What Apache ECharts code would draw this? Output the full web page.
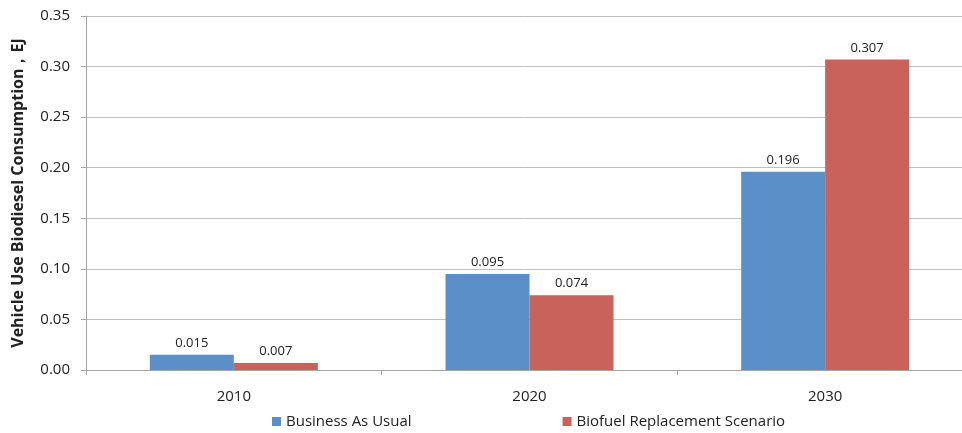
<!DOCTYPE html>
<html>
<head>
<meta charset="utf-8">
<script src="https://cdn.jsdelivr.net/npm/echarts@6/dist/echarts.min.js"></script>
<style>
  html, body { margin: 0; padding: 0; background: #fff; }
  #chart { width: 962px; height: 433px; }
</style>
</head>
<body>
<div id="chart"></div>
<script>
// Vehicle biodiesel consumption by year and scenario (EJ)
const years = ['2010', '2020', '2030'];
const businessAsUsual = [0.015, 0.095, 0.196];
const biofuelReplacement = [0.007, 0.074, 0.307];
const seriesNames = ['Business As Usual', 'Biofuel Replacement Scenario'];
const yTicks = { min: 0, max: 0.35, interval: 0.05 };

const font = '"Open Sans", "Noto Sans", sans-serif';

const chart = echarts.init(document.getElementById('chart'), null, { renderer: 'canvas' });

const labelStyle = {
  show: true,
  position: 'top',
  distance: 5,
  color: '#222',
  fontSize: 13,
  fontFamily: font,
  formatter: p => p.value.toFixed(3)
};

chart.setOption({
  animation: false,
  backgroundColor: '#ffffff',
  grid: { left: 86, width: 887, top: 16, height: 354, outerBoundsMode: 'none', containLabel: false },
  legend: {
    bottom: -1,
    left: 267,
    itemWidth: 9,
    itemHeight: 9,
    itemGap: 151,
    icon: 'rect',
    textStyle: { fontSize: 15, color: '#222', fontFamily: font },
    data: seriesNames
  },
  xAxis: {
    type: 'category',
    data: years,
    axisLine: { lineStyle: { color: '#a6a6a6', width: 1 } },
    axisTick: { show: true, length: 5, lineStyle: { color: '#a6a6a6' } },
    axisLabel: { fontSize: 15, color: '#222', margin: 19, fontFamily: font }
  },
  yAxis: {
    type: 'value',
    min: yTicks.min,
    max: yTicks.max,
    interval: yTicks.interval,
    name: 'Vehicle Use Biodiesel Consumption，EJ',
    nameLocation: 'middle',
    nameGap: 60,
    nameTextStyle: { fontSize: 16, fontWeight: 'bold', color: '#222', fontFamily: font },
    axisLine: { show: true, lineStyle: { color: '#a6a6a6' } },
    axisTick: { show: true, length: 5, lineStyle: { color: '#a6a6a6' } },
    axisLabel: { fontSize: 15, color: '#222', margin: 16, fontFamily: font, formatter: v => v.toFixed(2) },
    splitLine: { lineStyle: { color: '#bfbfbf', width: 1 } }
  },
  series: [
    {
      name: seriesNames[0],
      type: 'bar',
      data: businessAsUsual,
      barWidth: 84,
      barGap: '0%',
      itemStyle: { color: '#5b8fc8' },
      label: labelStyle
    },
    {
      name: seriesNames[1],
      type: 'bar',
      data: biofuelReplacement,
      barWidth: 84,
      itemStyle: { color: '#c9625a' },
      label: labelStyle
    }
  ]
});
</script>
</body>
</html>
